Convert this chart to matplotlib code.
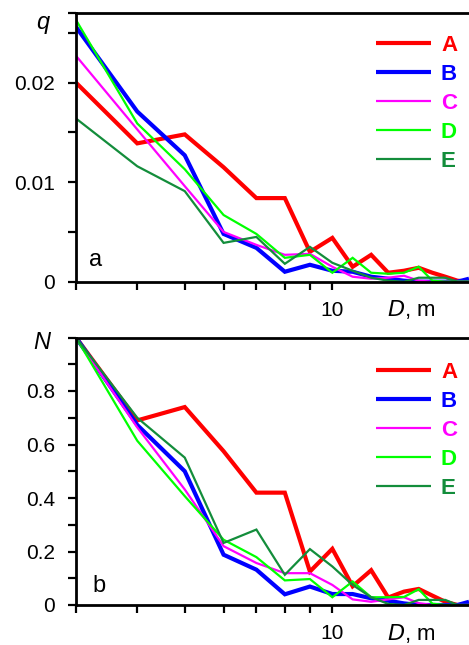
import matplotlib
matplotlib.use("Agg")
import matplotlib.pyplot as plt
from matplotlib.ticker import FixedLocator, NullFormatter, FixedFormatter

plt.rcParams['font.family'] = ['Liberation Sans', 'DejaVu Sans']

D = [3, 4, 5, 6, 7, 8, 9, 10, 11, 12, 13, 14, 15, 16, 17, 18, 19]

qA = [0.0200, 0.0139, 0.0148, 0.0115, 0.0084, 0.0084, 0.0030, 0.0044, 0.0015, 0.0027, 0.0009, 0.0011, 0.0014, 0.0009, 0.0005, 0.0001, 0.0]
qB = [0.0256, 0.0171, 0.0127, 0.0048, 0.0034, 0.0010, 0.0017, 0.0011, 0.0010, 0.0005, 0.0003, 0.0001, 0.0, 0.0, 0.0, 0.0, 0.0003]
qC = [0.0227, 0.0153, 0.0096, 0.0050, 0.0037, 0.0027, 0.0028, 0.0015, 0.0005, 0.0003, 0.0004, 0.0006, 0.0001, 0.0, 0.0, 0.0, 0.0]
qD = [0.0263, 0.0159, 0.0113, 0.0067, 0.0048, 0.0024, 0.0027, 0.0009, 0.0024, 0.0009, 0.0008, 0.0009, 0.0015, 0.0001, 0.0, 0.0, 0.0]
qE = [0.0164, 0.0116, 0.0091, 0.0039, 0.0045, 0.0018, 0.0035, 0.0019, 0.0011, 0.0004, 0.0001, 0.0, 0.0004, 0.0004, 0.0004, 0.0, 0.0]

nA = [1.0, 0.69, 0.74, 0.575, 0.42, 0.42, 0.125, 0.21, 0.07, 0.13, 0.028, 0.05, 0.06, 0.035, 0.012, 0.0, 0.0]
nB = [1.0, 0.673, 0.50, 0.188, 0.132, 0.040, 0.069, 0.041, 0.041, 0.025, 0.016, 0.006, 0.0, 0.0, 0.0, 0.0, 0.012]
nC = [1.0, 0.664, 0.432, 0.220, 0.157, 0.119, 0.119, 0.075, 0.021, 0.012, 0.021, 0.029, 0.007, 0.0, 0.0, 0.0, 0.0]
nD = [1.0, 0.614, 0.407, 0.244, 0.179, 0.092, 0.097, 0.029, 0.088, 0.029, 0.029, 0.030, 0.059, 0.005, 0.0, 0.0, 0.0]
nE = [1.0, 0.70, 0.551, 0.232, 0.282, 0.113, 0.209, 0.144, 0.075, 0.029, 0.004, 0.0, 0.019, 0.019, 0.019, 0.0, 0.0]

labels = ['A', 'B', 'C', 'D', 'E']
colors = ['#ff0000', '#0000ff', '#ff00ff', '#00ff00', '#138d3b']
widths = [3.0, 3.0, 1.6, 1.6, 1.6]

fig = plt.figure(figsize=(4.69, 6.45), dpi=100)
axA = fig.add_axes([76/469, 1-281.7/645, 393/469, 268.7/645])
axB = fig.add_axes([76/469, 1-605/645, 393/469, 267.5/645])

def style(ax, series, ylim, major, minor, mlabels, ylab, panel, ylab_pos, panel_pos, leg_top):
    for s, lab, c, w in zip(series, labels, colors, widths):
        ax.plot(D, s, color=c, lw=w, label=lab, solid_joinstyle='miter', solid_capstyle='butt')
    ax.set_xscale('log')
    ax.set_xlim(3, 19)
    ax.set_ylim(*ylim)
    ax.xaxis.set_major_locator(FixedLocator([10]))
    ax.xaxis.set_major_formatter(FixedFormatter(['10']))
    ax.xaxis.set_minor_locator(FixedLocator([3, 4, 5, 6, 7, 8, 9]))
    ax.xaxis.set_minor_formatter(NullFormatter())
    ax.yaxis.set_major_locator(FixedLocator(major))
    ax.yaxis.set_major_formatter(FixedFormatter(mlabels))
    ax.yaxis.set_minor_locator(FixedLocator(minor))
    ax.tick_params(which='both', direction='out', length=6, width=1.6, labelsize=15, color='black')
    ax.tick_params(axis='y', which='major', pad=9)
    ax.tick_params(axis='x', which='major', pad=8)
    ax.spines['right'].set_visible(False)
    for sp in ['left', 'bottom', 'top']:
        ax.spines[sp].set_linewidth(2.0)
    ax.text(ylab_pos[0], ylab_pos[1], ylab, transform=ax.transAxes, fontsize=17,
            style='italic', ha='center', va='center')
    ax.text(panel_pos[0], panel_pos[1], panel, transform=ax.transAxes, fontsize=17,
            ha='left', va='baseline')
    ax.text(0.852, -0.105, r'$\mathit{D}$' + ', m', transform=ax.transAxes, fontsize=16,
            ha='center', va='center')
    ax.legend(loc='upper left', bbox_to_anchor=(0.763, leg_top), frameon=False,
              handlelength=2.48, handletextpad=0.45, labelspacing=0.36,
              borderpad=0, borderaxespad=0,
              prop={'weight': 'bold', 'size': 16}, labelcolor='linecolor')
    return ax

style(axA, [qA, qB, qC, qD, qE], (0, 0.027), [0, 0.01, 0.02], [0.005, 0.015, 0.025, 0.027],
      ['0', '0.01', '0.02'], 'q', 'a', (-0.085, 0.965), (0.032, 0.058), 0.918)
style(axB, [nA, nB, nC, nD, nE], (0, 1.0), [0, 0.2, 0.4, 0.6, 0.8], [0.1, 0.3, 0.5, 0.7, 0.9, 1.0],
      ['0', '0.2', '0.4', '0.6', '0.8'], 'N', 'b', (-0.087, 0.98), (0.041, 0.049), 0.909)

fig.savefig('out.png', dpi=100)
